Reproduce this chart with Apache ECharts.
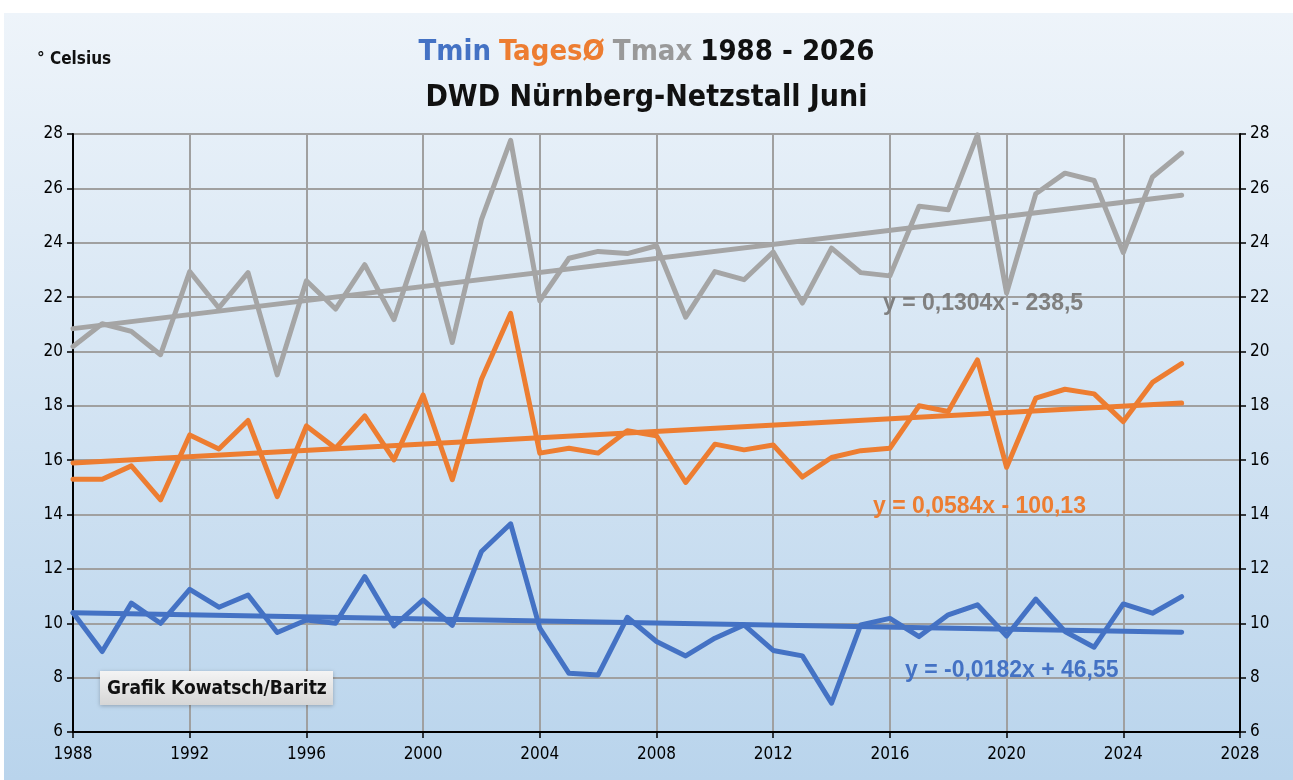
<!DOCTYPE html>
<html>
<head>
<meta charset="utf-8">
<script src="https://cdn.jsdelivr.net/npm/echarts@6/dist/echarts.min.js"></script>
<style>
html, body { margin: 0; padding: 0; background: #fff; }
#chart { width: 1293px; height: 780px; }
</style>
</head>
<body>
<div id="chart"></div>
<script>
// Juni-Mittelwerte DWD Nürnberg-Netzstall
const years = [1988, 1989, 1990, 1991, 1992, 1993, 1994, 1995, 1996, 1997,
  1998, 1999, 2000, 2001, 2002, 2003, 2004, 2005, 2006, 2007,
  2008, 2009, 2010, 2011, 2012, 2013, 2014, 2015, 2016, 2017,
  2018, 2019, 2020, 2021, 2022, 2023, 2024, 2025, 2026];
const tmin = [10.39, 8.96, 10.74, 10.0, 11.25, 10.59, 11.04, 9.66, 10.12, 10.0,
  11.72, 9.9, 10.86, 9.92, 12.64, 13.66, 9.82, 8.16, 8.1, 10.22,
  9.33, 8.8, 9.45, 9.94, 9.0, 8.8, 7.06, 9.94, 10.18, 9.51,
  10.31, 10.68, 9.53, 10.89, 9.7, 9.12, 10.71, 10.37, 10.98];
const tmittel = [15.3, 15.3, 15.79, 14.54, 16.93, 16.41, 17.46, 14.66, 17.26, 16.44,
  17.63, 16.01, 18.4, 15.28, 18.98, 21.4, 16.26, 16.44, 16.26, 17.08,
  16.9, 15.18, 16.59, 16.38, 16.56, 15.38, 16.1, 16.35, 16.44, 18.0,
  17.79, 19.69, 15.74, 18.28, 18.61, 18.44, 17.42, 18.86, 19.55];
const tmax = [20.18, 21.02, 20.74, 19.88, 22.94, 21.6, 22.9, 19.14, 22.6, 21.56,
  23.19, 21.17, 24.38, 20.33, 24.85, 27.77, 21.86, 23.43, 23.68, 23.6,
  23.89, 21.26, 22.94, 22.64, 23.66, 21.78, 23.8, 22.9, 22.78, 25.34,
  25.21, 27.97, 22.15, 25.8, 26.56, 26.29, 23.64, 26.42, 27.3];

// Trendlinien (Anfang/Ende)
const trendYears = [1988, 2026];
const tminTrend = [10.39, 9.67];
const tmittelTrend = [15.9, 18.1];
const tmaxTrend = [20.84, 25.75];

const trendText = {
  tmin: 'y = -0,0182x + 46,55',
  tmittel: 'y = 0,0584x - 100,13',
  tmax: 'y = 0,1304x - 238,5'
};

const BLUE = '#4472c4';
const ORANGE = '#ed7d31';
const GREY = '#a5a5a5';
const NARROW = '"Liberation Sans Narrow", "DejaVu Sans Condensed", sans-serif';
const EQ_FONT = 'bold 23px "Liberation Sans", sans-serif';

function pairs(xs, ys) {
  return xs.map((x, i) => [x, ys[i]]);
}

function lineSeries(name, data, color, z) {
  return {
    name: name,
    type: 'line',
    data: data,
    showSymbol: false,
    z: z,
    lineStyle: { color: color, width: 5, cap: 'round', join: 'round' },
    itemStyle: { color: color },
    animation: false
  };
}

const yAxisBase = {
  type: 'value',
  min: 6,
  max: 28,
  interval: 2,
  axisLine: { show: true, lineStyle: { color: '#000', width: 2 } },
  axisTick: { show: true, length: 6, lineStyle: { color: '#000', width: 1.5 } },
  axisLabel: { color: '#000', fontFamily: NARROW, fontSize: 17, margin: 10 }
};

const myChart = echarts.init(document.getElementById('chart'));

const option = {
  backgroundColor: '#fff',
  title: [
    {
      text: '{b|Tmin} {o|TagesØ} {g|Tmax} {k|1988 - 2026}',
      left: 'center',
      top: 33,
      textStyle: {
        fontSize: 29,
        rich: {
          b: { color: BLUE, fontSize: 29, fontWeight: 'bold', fontFamily: NARROW },
          o: { color: ORANGE, fontSize: 29, fontWeight: 'bold', fontFamily: NARROW },
          g: { color: '#999', fontSize: 29, fontWeight: 'bold', fontFamily: NARROW },
          k: { color: '#111', fontSize: 29, fontWeight: 'bold', fontFamily: NARROW }
        }
      }
    },
    {
      text: 'DWD Nürnberg-Netzstall Juni',
      left: 'center',
      top: 78,
      textStyle: { color: '#111', fontSize: 30, fontWeight: 'bold', fontFamily: NARROW }
    },
    {
      text: '° Celsius',
      left: 32,
      top: 46,
      textStyle: { color: '#111', fontSize: 17, fontWeight: 'bold', fontFamily: NARROW }
    }
  ],
  grid: { left: 73, right: 53, top: 134, bottom: 48, show: true, borderColor: '#333', borderWidth: 1.5, backgroundColor: 'transparent' },
  xAxis: {
    type: 'value',
    min: 1988,
    max: 2028,
    interval: 4,
    axisLine: { show: true, onZero: false, lineStyle: { color: '#000', width: 2 } },
    axisTick: { show: true, length: 6, lineStyle: { color: '#000', width: 1.5 } },
    axisLabel: { color: '#000', fontFamily: NARROW, fontSize: 17, margin: 14, formatter: v => String(v) },
    splitLine: { show: true, lineStyle: { color: '#a0a0a0', width: 2 } }
  },
  yAxis: [
    Object.assign({}, yAxisBase, {
      position: 'left',
      splitLine: { show: true, lineStyle: { color: '#a0a0a0', width: 2 } }
    }),
    Object.assign({}, yAxisBase, {
      position: 'right',
      splitLine: { show: false }
    })
  ],
  series: [
    lineSeries('Tmax', pairs(years, tmax), GREY, 3),
    lineSeries('Tmax Trend', pairs(trendYears, tmaxTrend), GREY, 4),
    lineSeries('TagesØ', pairs(years, tmittel), ORANGE, 3),
    lineSeries('TagesØ Trend', pairs(trendYears, tmittelTrend), ORANGE, 4),
    lineSeries('Tmin', pairs(years, tmin), BLUE, 3),
    lineSeries('Tmin Trend', pairs(trendYears, tminTrend), BLUE, 4)
  ],
  graphic: [
    {
      type: 'rect',
      z: -10,
      silent: true,
      shape: { x: 4, y: 13, width: 1289, height: 767 },
      style: {
        fill: new echarts.graphic.LinearGradient(0, 0, 0, 1, [
          { offset: 0, color: '#eef4fa' },
          { offset: 1, color: '#b9d4ec' }
        ])
      }
    },
    {
      type: 'text',
      z: 10,
      x: 883,
      y: 304,
      style: { text: trendText.tmax, fill: '#808080', font: EQ_FONT, verticalAlign: 'middle' }
    },
    {
      type: 'text',
      z: 10,
      x: 873,
      y: 507,
      style: { text: trendText.tmittel, fill: ORANGE, font: EQ_FONT, verticalAlign: 'middle' }
    },
    {
      type: 'text',
      z: 10,
      x: 905,
      y: 671,
      style: { text: trendText.tmin, fill: BLUE, font: EQ_FONT, verticalAlign: 'middle' }
    },
    {
      type: 'rect',
      z: 10,
      shape: { x: 100, y: 671, width: 233, height: 34 },
      style: {
        fill: new echarts.graphic.LinearGradient(0, 0, 0, 1, [
          { offset: 0, color: '#f4f4f4' },
          { offset: 1, color: '#d6d6d6' }
        ]),
        shadowBlur: 4,
        shadowColor: 'rgba(0,0,0,0.25)',
        shadowOffsetY: 1
      }
    },
    {
      type: 'text',
      z: 11,
      x: 107,
      y: 689,
      style: { text: 'Grafik Kowatsch/Baritz', fill: '#111', font: 'bold 19px "Liberation Sans Narrow", "DejaVu Sans Condensed", sans-serif', verticalAlign: 'middle' }
    }
  ]
};

myChart.setOption(option);
</script>
</body>
</html>
